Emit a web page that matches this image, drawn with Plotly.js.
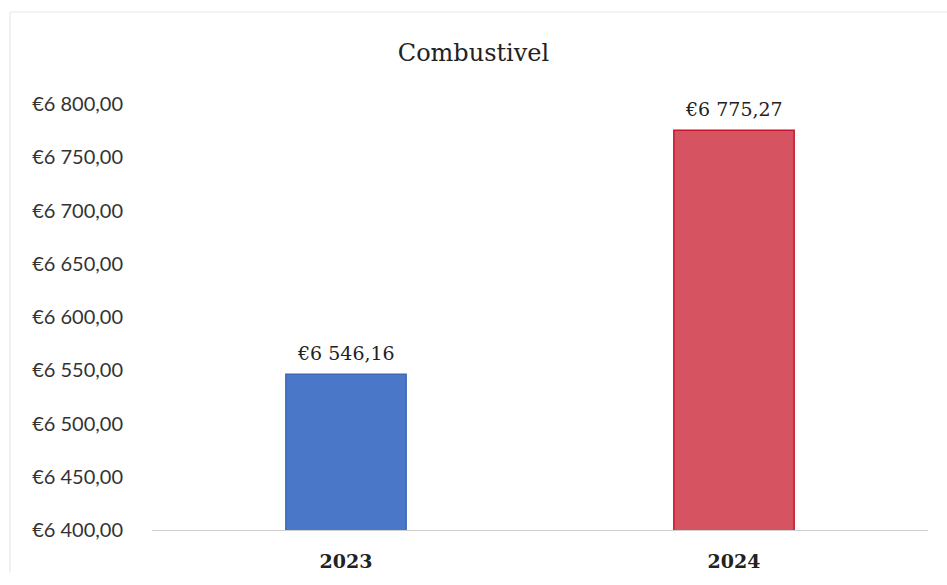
<!DOCTYPE html>
<html>
<head>
<meta charset="utf-8">
<script src="https://cdn.plot.ly/plotly-3.0.1.min.js"></script>
<style>html,body{margin:0;padding:0;background:#fff;}#chart{width:947px;height:585px;}</style>
</head>
<body>
<div id="chart"></div>
<script>
const categories = ["2023", "2024"];
const values = [6546.16, 6775.27];
const valueLabels = ["€6 546,16", "€6 775,27"];
const tickValues = [6400, 6450, 6500, 6550, 6600, 6650, 6700, 6750, 6800];
const tickLabels = ["€6 400,00", "€6 450,00", "€6 500,00", "€6 550,00", "€6 600,00", "€6 650,00", "€6 700,00", "€6 750,00", "€6 800,00"];

const serif = "DejaVu Serif, Liberation Serif, serif";

const trace = {
  type: "bar",
  x: categories,
  y: values,
  marker: {
    color: ["#4a77c7", "#d65461"],
    line: {color: ["#3d68b6", "#c5142c"], width: 1.5}
  },
  hoverinfo: "none"
};

const annotations = categories.map((c, i) => ({
  x: i, y: values[i], xref: "x", yref: "y",
  text: valueLabels[i], showarrow: false,
  yanchor: "bottom", xanchor: "center", yshift: 8,
  font: {family: serif, size: 19, color: "#222"}
}));

const layout = {
  width: 947, height: 585,
  margin: {l: 152, r: 19, t: 104, b: 55},
  paper_bgcolor: "#ffffff",
  plot_bgcolor: "#ffffff",
  showlegend: false,
  bargap: 0.69,
  title: {text: "Combustivel", x: 0.5, xanchor: "center", y: 0.91, yanchor: "middle",
          font: {family: serif, size: 24, color: "#222"}},
  xaxis: {
    type: "category",
    range: [-0.5, 1.5],
    showgrid: false, zeroline: false,
    showline: true, linecolor: "#d0d0d0", linewidth: 1,
    ticks: "",
    tickfont: {family: serif, size: 19, color: "#222", weight: "bold"},
    ticklabelstandoff: 14
  },
  yaxis: {
    range: [6400, 6800],
    tickvals: tickValues,
    ticktext: tickLabels,
    showgrid: false, zeroline: false, showline: false,
    ticks: "",
    tickfont: {family: "Lato, Open Sans, sans-serif", size: 20, color: "#333"},
    ticklabelstandoff: 28
  },
  annotations: annotations,
  shapes: [
    {type: "line", xref: "paper", yref: "paper", x0: -0.183, x1: -0.183, y0: -0.1, y1: 1.216, line: {color: "#e2e2e2", width: 1}},
    {type: "line", xref: "paper", yref: "paper", x0: -0.183, x1: 1.025, y0: 1.216, y1: 1.216, line: {color: "#e6e6e6", width: 1}}
  ]
};

Plotly.newPlot("chart", [trace], layout, {displayModeBar: false, staticPlot: true});
</script>
</body>
</html>
